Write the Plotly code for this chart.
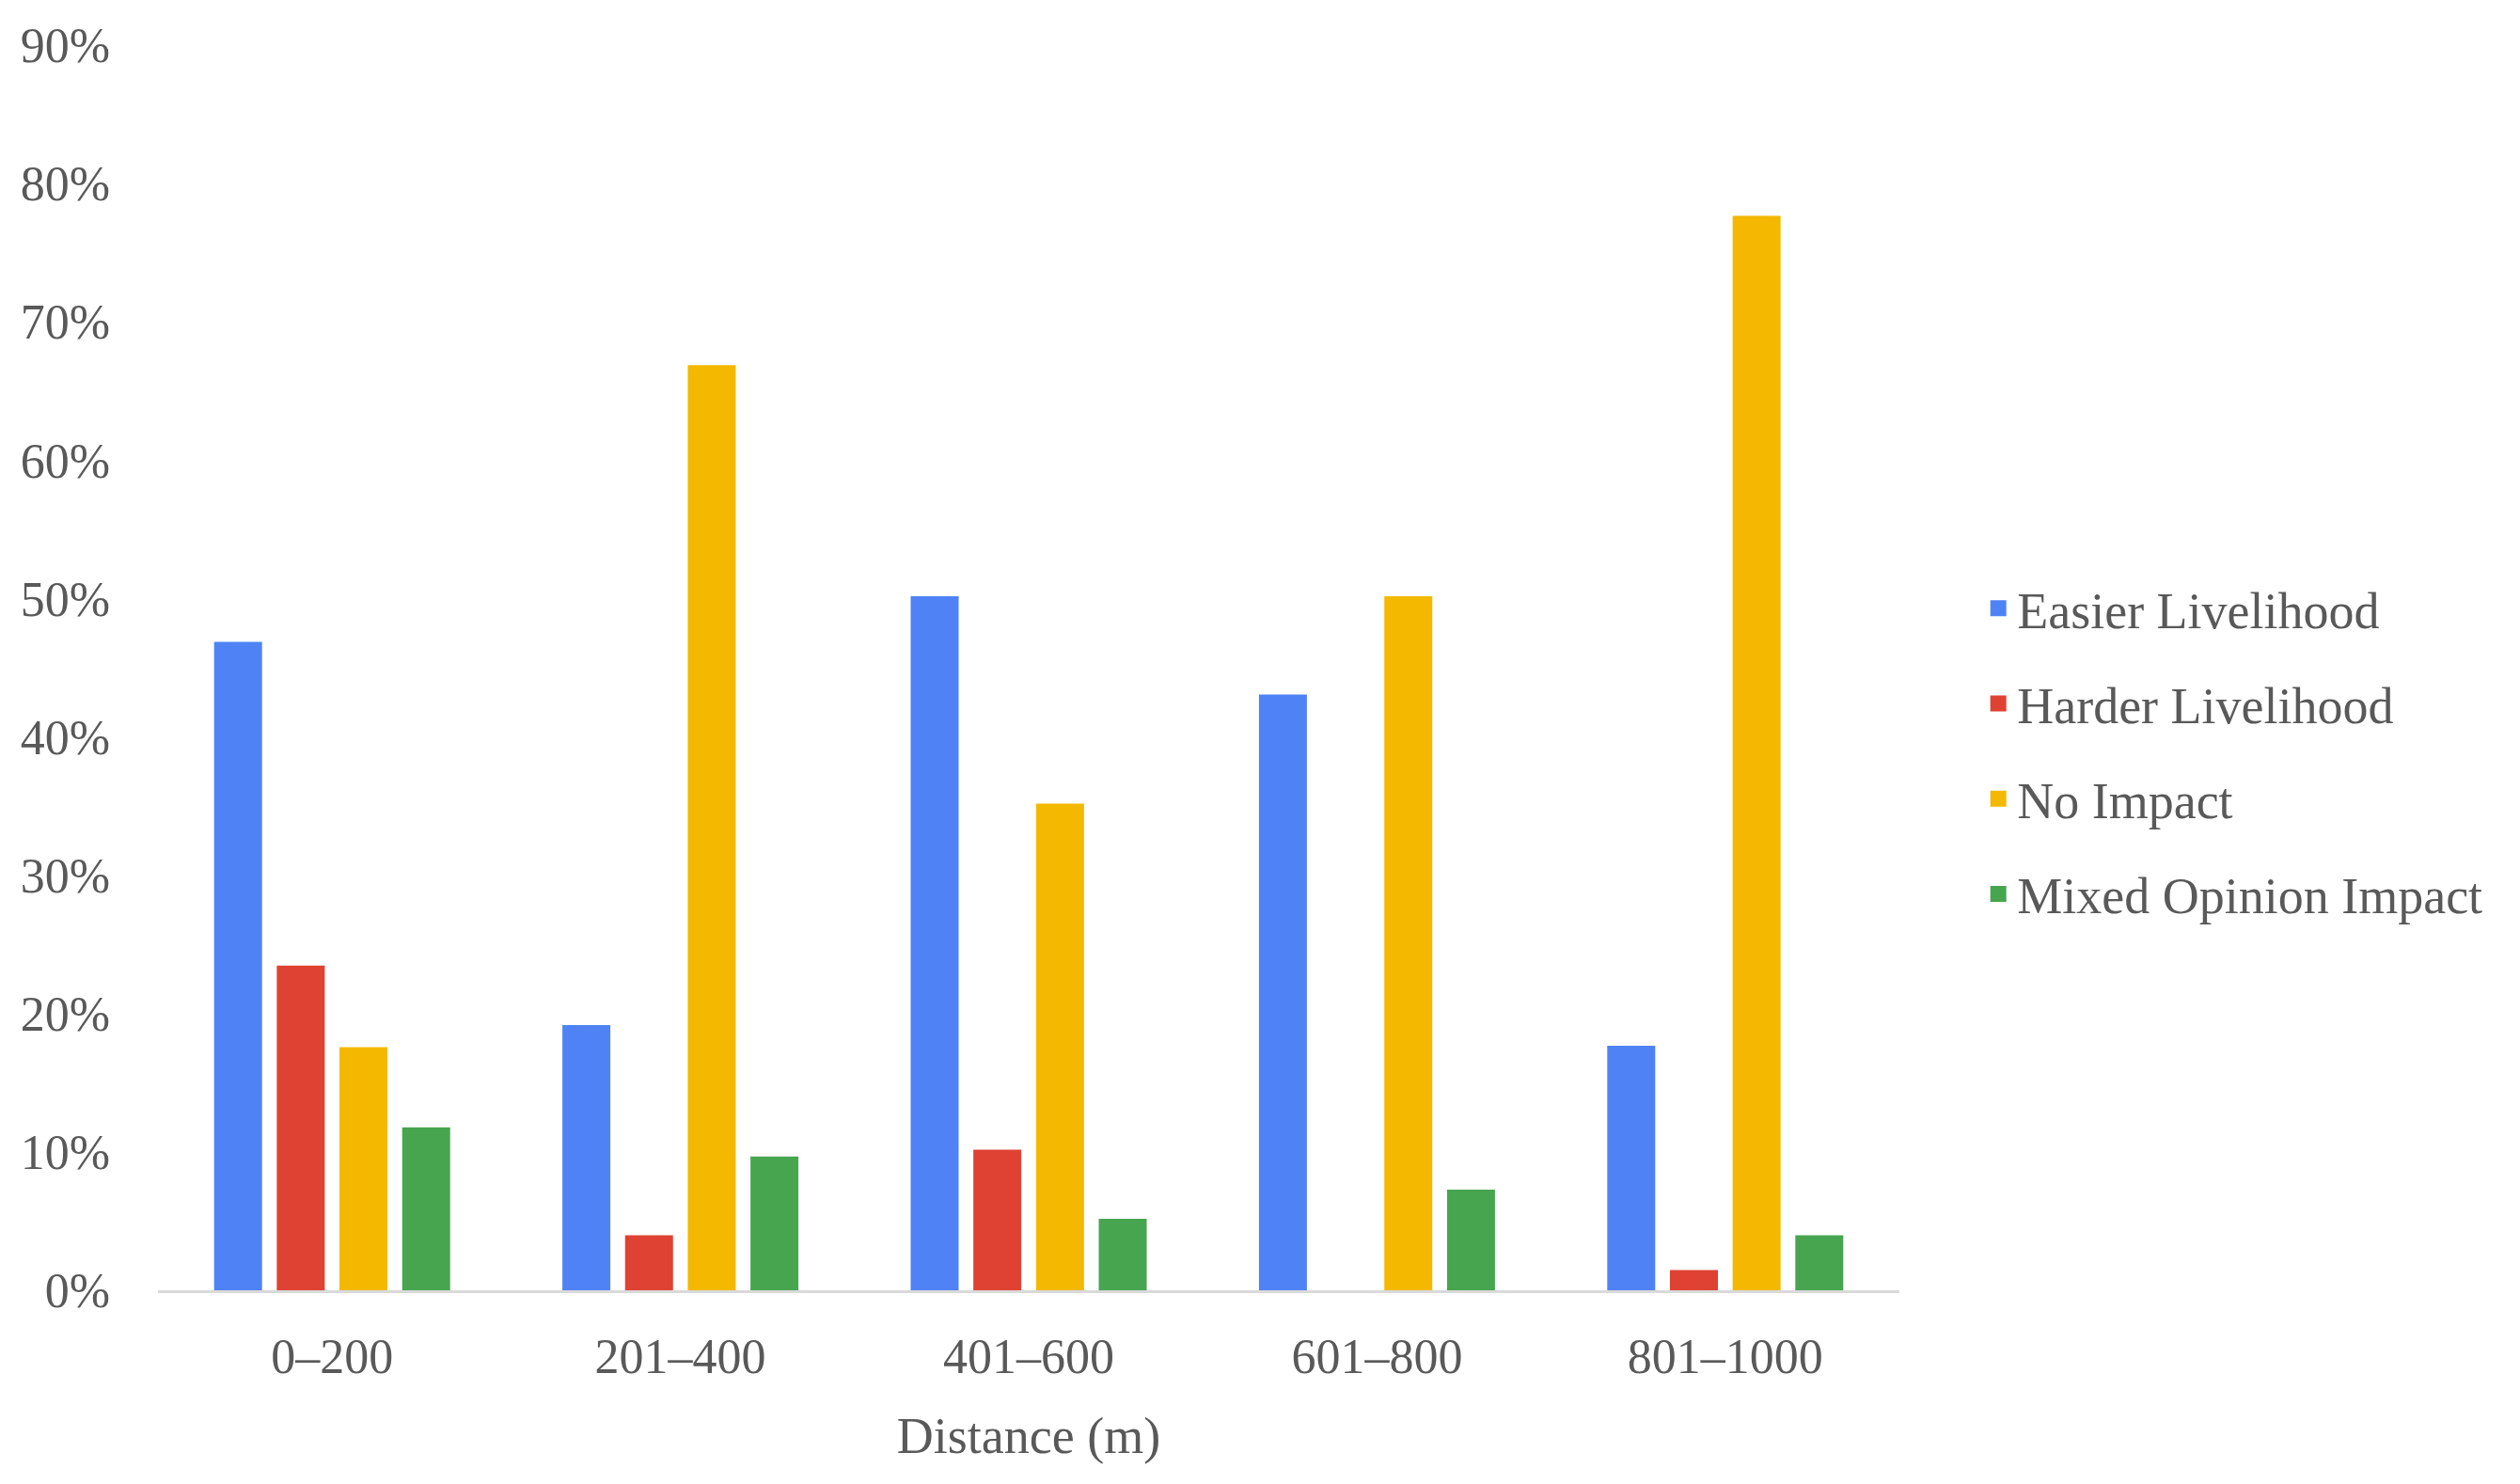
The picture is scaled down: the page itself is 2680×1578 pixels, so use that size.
import plotly.graph_objects as go

distances = ["0–200", "201–400", "401–600", "601–800", "801–1000"]

easier = [0.467, 0.190, 0.500, 0.429, 0.175]
harder = [0.233, 0.038, 0.100, 0.0, 0.013]
no_impact = [0.174, 0.667, 0.350, 0.500, 0.775]
mixed = [0.116, 0.095, 0.050, 0.071, 0.038]

series_names = ["Easier Livelihood", "Harder Livelihood", "No Impact", "Mixed Opinion Impact"]
series_colors = ["#4F83F5", "#DF4232", "#F4B800", "#47A54F"]

FONT = "Liberation Serif"
GREY = "#595959"

fig = go.Figure()
for name, vals, col in zip(series_names, [easier, harder, no_impact, mixed], series_colors):
    # same-colour outline makes the legend swatch bigger; skip it on zero bars
    lw = [0 if v == 0 else 5 for v in vals]
    fig.add_trace(go.Bar(x=distances, y=vals, name=name, legendgroup=name,
                         marker=dict(color=col, line=dict(color=col, width=lw))))

fig.update_layout(
    width=2680, height=1578,
    margin=dict(l=160, r=668, t=30, b=214),
    plot_bgcolor="white", paper_bgcolor="white",
    font=dict(family=FONT, size=54, color=GREY),
    barmode="group", bargap=0.28, bargroupgap=0.31,
    legend=dict(x=1.046, y=0.433, xanchor="left", yanchor="middle",
                font=dict(size=54, color=GREY), tracegroupgap=28,
                itemwidth=30),
)
fig.update_yaxes(range=[0, 0.9], dtick=0.1, tickformat=".0%", showgrid=False,
                 zeroline=False, showline=False, ticks="", ticklabelstandoff=50,
                 tickfont=dict(size=52, color=GREY))
fig.update_xaxes(showline=True, linecolor="#D9D9D9", linewidth=3, ticks="",
                 ticklabelstandoff=23, tickfont=dict(size=52, color=GREY),
                 title=dict(text="Distance (m)", standoff=37,
                            font=dict(size=54, color=GREY)))

fig.write_html("out.html")
